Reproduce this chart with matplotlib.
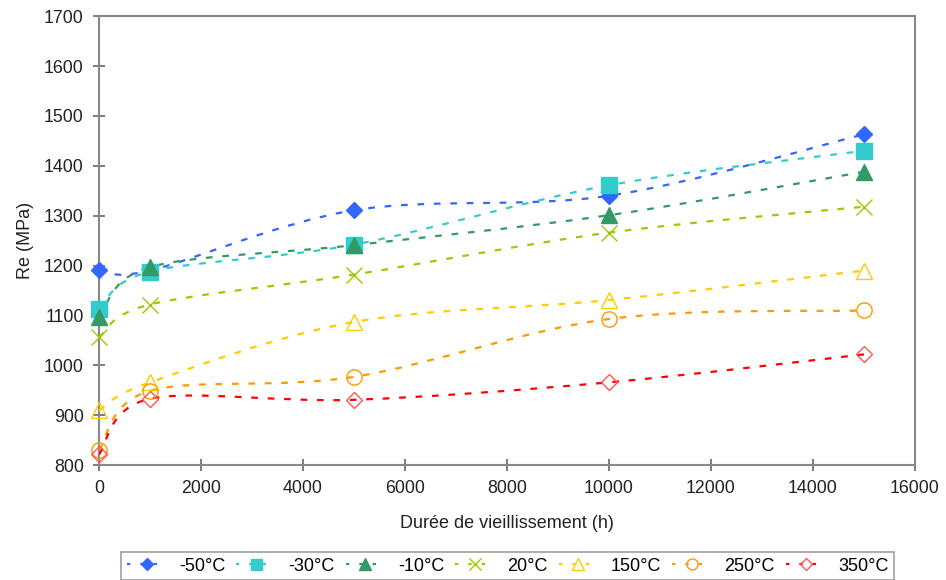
import matplotlib
matplotlib.use("Agg")
import matplotlib.pyplot as plt
import numpy as np
from matplotlib.path import Path
from matplotlib.patches import PathPatch
from matplotlib.lines import Line2D

# Aging time (h) and yield strength Re (MPa) per test temperature
hours = [0, 1000, 5000, 10000, 15000]
labels = ["-50°C", "-30°C", "-10°C", "20°C", "150°C", "250°C", "350°C"]
re_m50 = [1192, 1190, 1311, 1340, 1463]
re_m30 = [1113, 1188, 1242, 1361, 1430]
re_m10 = [1096, 1197, 1241, 1301, 1388]
re_20 = [1057, 1122, 1182, 1266, 1318]
re_150 = [910, 966, 1087, 1131, 1190]
re_250 = [830, 949, 977, 1093, 1110]
re_350 = [822, 933, 931, 966, 1022]

series = [re_m50, re_m30, re_m10, re_20, re_150, re_250, re_350]
colors = ["#3366FF", "#33CCCC", "#339966", "#99CC00", "#FFCC00", "#FF9900", "#FF0000"]
# marker, size, filled
markers = [("D", 8.5, True), ("s", 11, True), ("^", 12, True), ("x", 11.5, False),
           ("^", 12, False), ("o", 11, False), ("D", 8.5, False)]
mcolors = colors[:6] + ["#FF5555"]

plt.rcParams.update({"font.family": ["Liberation Sans", "DejaVu Sans"]})

fig = plt.figure(figsize=(9.46, 5.8), dpi=100)
ax = fig.add_axes([0.1047, 0.198, 0.8625, 0.7742])

DASH = (0, (3.0, 4.4))


def smooth_path(xs, ys):
    # Excel-style smoothed line: cubic Bezier through the points
    pts = np.column_stack([xs, ys]).astype(float)
    n = len(pts)
    verts = [pts[0]]
    codes = [Path.MOVETO]
    for i in range(n - 1):
        p0 = pts[i - 1] if i > 0 else pts[i]
        p1, p2 = pts[i], pts[i + 1]
        p3 = pts[i + 2] if i + 2 < n else pts[i + 1]
        c1 = p1 + (p2 - p0) / 6.0
        c2 = p2 - (p3 - p1) / 6.0
        verts += [c1, c2, p2]
        codes += [Path.CURVE4] * 3
    return Path(verts, codes)


handles = []
for vals, col, (m, ms, filled), mc in zip(series, colors, markers, mcolors):
    patch = PathPatch(smooth_path(hours, vals), fill=False, edgecolor=col,
                      linewidth=1.6, linestyle=DASH, zorder=3)
    ax.add_patch(patch)
    ax.plot(hours, vals, linestyle="none", marker=m, markersize=ms,
            markerfacecolor=mc if filled else "none", markeredgecolor=mc,
            markeredgewidth=1.0, zorder=4, clip_on=False)
    handles.append(Line2D([], [], color=col, linewidth=1.6, linestyle=(0, (1.5, 4.5)),
                          marker=m, markersize=ms * 0.72,
                          markerfacecolor=mc if filled else "none",
                          markeredgecolor=mc, markeredgewidth=1.0))

ax.set_xlim(0, 16000)
ax.set_ylim(800, 1700)
ax.set_xticks(np.arange(0, 16001, 2000))
ax.set_yticks(np.arange(800, 1701, 100))
ax.tick_params(direction="inout", length=8, width=1.2, colors="#666666",
               labelcolor="#222222", labelsize=12.8, pad=7)
for s in ax.spines.values():
    s.set_color("#888888")
    s.set_linewidth(1.5)

ax.set_xlabel("Durée de vieillissement (h)", fontsize=13, color="#222222", labelpad=13)
ax.set_ylabel("Re (MPa)", fontsize=13, color="#222222", labelpad=7)

leg = fig.legend(handles, labels, loc="upper center", bbox_to_anchor=(0.5365, 0.048),
                 ncol=7, fontsize=13, frameon=True, fancybox=False,
                 handlelength=2.2, handletextpad=0.7, columnspacing=0.6,
                 borderpad=0.3, borderaxespad=0)
leg.get_frame().set_edgecolor("#888888")
leg.get_frame().set_linewidth(1.2)

fig.savefig("out.png", dpi=100)
